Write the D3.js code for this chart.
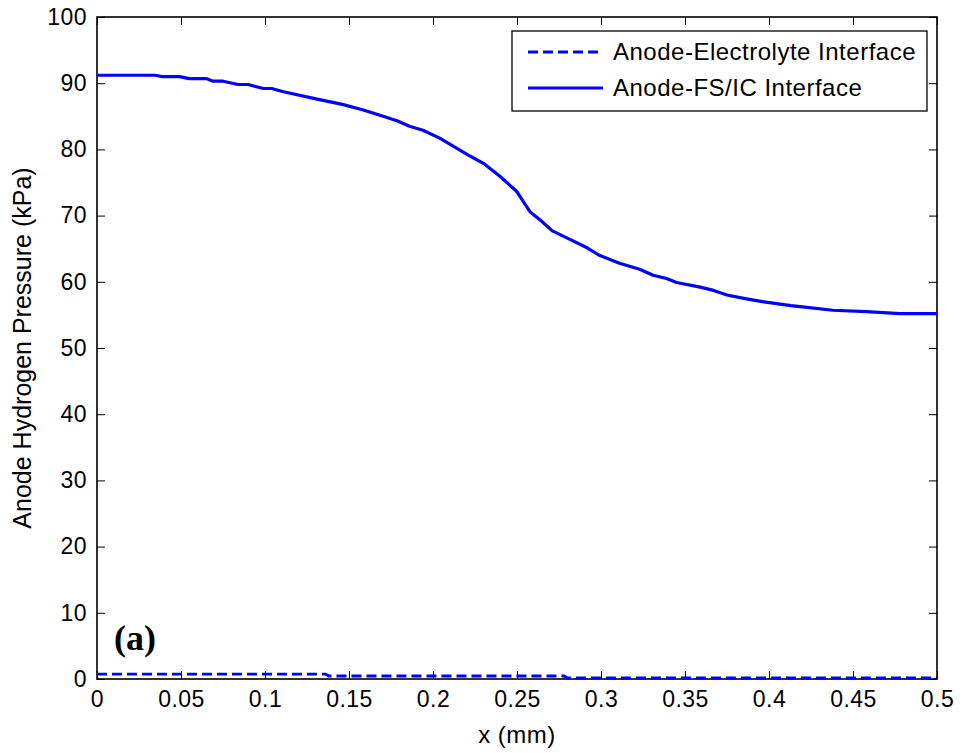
<!DOCTYPE html>
<html><head><meta charset="utf-8">
<script src="https://cdn.jsdelivr.net/npm/d3@7"></script>
<style>body{margin:0;background:#fff}svg{display:block}</style>
</head><body>
<script>
// Data
const solidX = [0,0.0345,0.039,0.049,0.055,0.065,0.069,0.075,0.084,0.090,0.099,0.104,0.111,0.131,0.146,0.158,0.168,0.179,0.186,0.194,0.204,0.214,0.222,0.230,0.240,0.250,0.258,0.264,0.271,0.280,0.292,0.299,0.311,0.323,0.331,0.339,0.345,0.359,0.367,0.375,0.385,0.396,0.413,0.424,0.438,0.458,0.478,0.5];
const solidY = [91.2,91.2,91.0,91.0,90.7,90.7,90.3,90.3,89.8,89.8,89.2,89.2,88.7,87.6,86.8,86.0,85.2,84.3,83.5,82.9,81.7,80.2,79.0,77.9,75.9,73.6,70.5,69.3,67.7,66.6,65.1,64.0,62.8,61.9,61.0,60.5,59.9,59.2,58.7,58.0,57.5,57.0,56.4,56.1,55.7,55.5,55.2,55.2];
const dashX = [0,0.136,0.138,0.278,0.280,0.5];
const dashY = [0.75,0.75,0.45,0.45,0.15,0.15];
const xTicks = [0,0.05,0.1,0.15,0.2,0.25,0.3,0.35,0.4,0.45,0.5];
const xTickLabels = ["0","0.05","0.1","0.15","0.2","0.25","0.3","0.35","0.4","0.45","0.5"];
const yTicks = [0,10,20,30,40,50,60,70,80,90,100];
const seriesNames = ["Anode-Electrolyte Interface","Anode-FS/IC Interface"];

const W=963,H=753, L=97, R=937, T=17, B=679;
const svg=d3.select("body").append("svg").attr("width",W).attr("height",H);
const x=d3.scaleLinear().domain([0,0.5]).range([L,R]);
const y=d3.scaleLinear().domain([0,100]).range([B,T]);
const font="Liberation Sans, Arial, sans-serif";

// axes with inward ticks
const tickLen=8;
const gx=svg.append("g").attr("transform",`translate(0,${B})`)
  .call(d3.axisBottom(x).tickValues(xTicks).tickSizeInner(-tickLen).tickSizeOuter(0).tickPadding(14).tickFormat((d,i)=>xTickLabels[i]));
const gxt=svg.append("g").attr("transform",`translate(0,${T})`)
  .call(d3.axisTop(x).tickValues(xTicks).tickSizeInner(-tickLen).tickSizeOuter(0).tickFormat(""));
const gy=svg.append("g").attr("transform",`translate(${L},0)`)
  .call(d3.axisLeft(y).tickValues(yTicks).tickSizeInner(-tickLen).tickSizeOuter(0).tickPadding(10));
const gyr=svg.append("g").attr("transform",`translate(${R},0)`)
  .call(d3.axisRight(y).tickValues(yTicks).tickSizeInner(-tickLen).tickSizeOuter(0).tickFormat(""));
[gx,gxt,gy,gyr].forEach(g=>{
  g.select(".domain").remove();
  g.selectAll(".tick line").attr("stroke","#000").attr("stroke-width",1);
  g.selectAll(".tick text").attr("fill","#000").style("font-family",font).style("font-size","23px").style("letter-spacing","0.5px");
});
gx.selectAll(".tick text").attr("dy","0.71em").attr("y",12);
gy.selectAll(".tick text").attr("x",-10);

// box
svg.append("rect").attr("x",L).attr("y",T).attr("width",R-L).attr("height",B-T)
  .attr("fill","none").attr("stroke","#000").attr("stroke-width",1.6);

// lines
const solidData=solidX.map((d,i)=>[d,solidY[i]]);
const dashData=dashX.map((d,i)=>[d,dashY[i]]);
const line=d3.line().x(d=>x(d[0])).y(d=>y(d[1]));
svg.append("path").datum(dashData).attr("d",line).attr("fill","none").attr("stroke","#0000ff").attr("stroke-width",2.8).attr("stroke-dasharray","10,5");
svg.append("path").datum(solidData).attr("d",line).attr("fill","none").attr("stroke","#0000ff").attr("stroke-width",3.2).attr("stroke-linejoin","round");

// labels
svg.append("text").attr("x",(L+R)/2).attr("y",743).attr("text-anchor","middle")
  .style("font-family",font).style("font-size","24px").style("letter-spacing","0.5px").text("x (mm)");
svg.append("text").attr("transform",`translate(31,${(T+B)/2}) rotate(-90)`).attr("text-anchor","middle")
  .style("font-family",font).style("font-size","25px").text("Anode Hydrogen Pressure (kPa)");
svg.append("text").attr("x",114).attr("y",650).style("font-family","Liberation Serif, Times New Roman, serif")
  .style("font-size","36px").style("font-weight","bold").text("(a)");

// legend
const lg=svg.append("g");
lg.append("rect").attr("x",512).attr("y",31).attr("width",415).attr("height",80).attr("fill","#fff").attr("stroke","#000").attr("stroke-width",1.3);
const ly=[52,88];
seriesNames.forEach((n,i)=>{
  lg.append("line").attr("x1",528).attr("x2",603).attr("y1",ly[i]).attr("y2",ly[i]).attr("stroke","#0000ff")
    .attr("stroke-width",i?3.2:2.8).attr("stroke-dasharray",i?null:"10,5");
  lg.append("text").attr("x",613).attr("y",ly[i]).attr("dy","0.35em").style("font-family",font).style("font-size","24px").style("letter-spacing","0.5px").text(n);
});
</script>
</body></html>
